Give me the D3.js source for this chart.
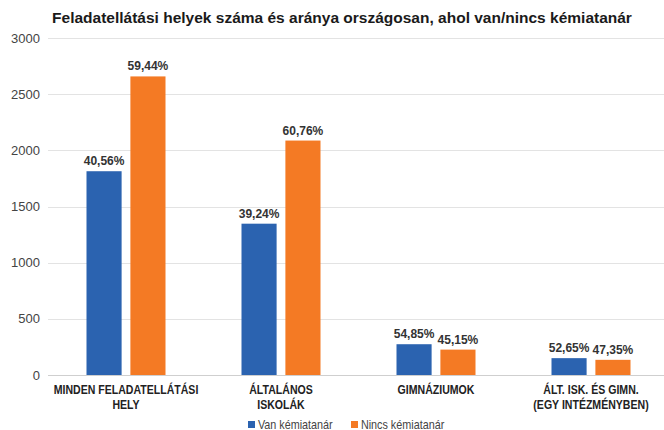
<!DOCTYPE html>
<html>
<head>
<meta charset="utf-8">
<script src="https://cdn.jsdelivr.net/npm/d3@7"></script>
<style>
  body { margin: 0; background: #fff; }
  text { font-family: "Liberation Sans", Arial, sans-serif; }
</style>
</head>
<body>
<svg width="664" height="430"></svg>
<script>
// The svg
var svg = d3.select("svg");
var width = +svg.attr("width");
var height = +svg.attr("height");

// Data
var categories = [["MINDEN FELADATELLÁTÁSI", "HELY"], ["ÁLTALÁNOS", "ISKOLÁK"], ["GIMNÁZIUMOK"], ["ÁLT. ISK. ÉS GIMN.", "(EGY INTÉZMÉNYBEN)"]];
var seriesNames = ["Van kémiatanár", "Nincs kémiatanár"];
var vanValues = [1814, 1347, 274, 150];
var nincsValues = [2658, 2087, 226, 135];
var vanLabels = ["40,56%", "39,24%", "54,85%", "52,65%"];
var nincsLabels = ["59,44%", "60,76%", "45,15%", "47,35%"];
var yTicks = [0, 500, 1000, 1500, 2000, 2500, 3000];
var colors = ["#2b63b0", "#f47a24"];

var rows = categories.map(function(c, i) {
  return { cat: i, values: [vanValues[i], nincsValues[i]], labels: [vanLabels[i], nincsLabels[i]] };
});

// Scales
var x0 = d3.scaleBand().domain(d3.range(categories.length)).range([48.5, 668.5]).padding(0);
var x1 = d3.scaleBand().domain([0, 1]).range([38, 117]).paddingInner(0.2);
var y = d3.scaleLinear().domain([0, 3000]).range([375, 38]);

// Title
svg.append("text")
  .attr("x", 342).attr("y", 23)
  .attr("text-anchor", "middle")
  .style("font-size", "15.5px").style("font-weight", "bold").attr("fill", "#1a1a1a")
  .text("Feladatellátási helyek száma és aránya országosan, ahol van/nincs kémiatanár");

// Grid + y axis labels
svg.append("g").selectAll("line")
  .data(yTicks).enter().append("line")
  .attr("x1", 48).attr("x2", width)
  .attr("y1", function(d) { return Math.round(y(d)) + 0.5; })
  .attr("y2", function(d) { return Math.round(y(d)) + 0.5; })
  .attr("stroke", function(d) { return d === 0 ? "#cfcfcf" : "#e3e3e3"; });

svg.append("g").selectAll("text")
  .data(yTicks).enter().append("text")
  .attr("x", 40).attr("y", function(d) { return y(d) + 4.5; })
  .attr("text-anchor", "end")
  .style("font-size", "13px").attr("fill", "#444")
  .text(function(d) { return d; });

// Bars
var groups = svg.append("g").selectAll("g")
  .data(rows).enter().append("g")
  .attr("transform", function(d) { return "translate(" + x0(d.cat) + ",0)"; });

groups.selectAll("rect")
  .data(function(d) { return d.values.map(function(v, k) { return { k: k, v: v }; }); })
  .enter().append("rect")
  .attr("x", function(d) { return x1(d.k); })
  .attr("width", x1.bandwidth())
  .attr("y", function(d) { return y(d.v); })
  .attr("height", function(d) { return y(0) - y(d.v); })
  .attr("fill", function(d) { return colors[d.k]; });

groups.selectAll("text.lbl")
  .data(function(d) { return d.values.map(function(v, k) { return { k: k, v: v, t: d.labels[k] }; }); })
  .enter().append("text")
  .attr("class", "lbl")
  .attr("x", function(d) { return x1(d.k) + x1.bandwidth() / 2; })
  .attr("y", function(d) { return y(d.v) - 6; })
  .attr("text-anchor", "middle")
  .style("font-size", "12px").style("font-weight", "bold").attr("fill", "#333")
  .text(function(d) { return d.t; });

// Category labels
var catG = svg.append("g").selectAll("text")
  .data(categories).enter().append("text")
  .attr("text-anchor", "middle")
  .attr("transform", function(d, i) { return "translate(" + (x0(i) + 77.5) + ",0) scale(0.88,1)"; })
  .style("font-size", "12px").style("font-weight", "bold").attr("fill", "#222");

catG.selectAll("tspan")
  .data(function(d) { return d; }).enter().append("tspan")
  .attr("x", 0)
  .attr("y", function(d, j) { return 394 + j * 15; })
  .text(function(d) { return d; });

// Legend
var legendX = [248, 351];
var legend = svg.append("g").selectAll("g")
  .data(seriesNames).enter().append("g")
  .attr("transform", function(d, i) { return "translate(" + legendX[i] + ",421)"; });

legend.append("rect")
  .attr("width", 7).attr("height", 7)
  .attr("fill", function(d, i) { return colors[i]; });

legend.append("text")
  .attr("x", 11).attr("y", 8)
  .attr("transform", "scale(0.9,1)")
  .style("font-size", "12px").attr("fill", "#444")
  .text(function(d) { return d; });
</script>
</body>
</html>
